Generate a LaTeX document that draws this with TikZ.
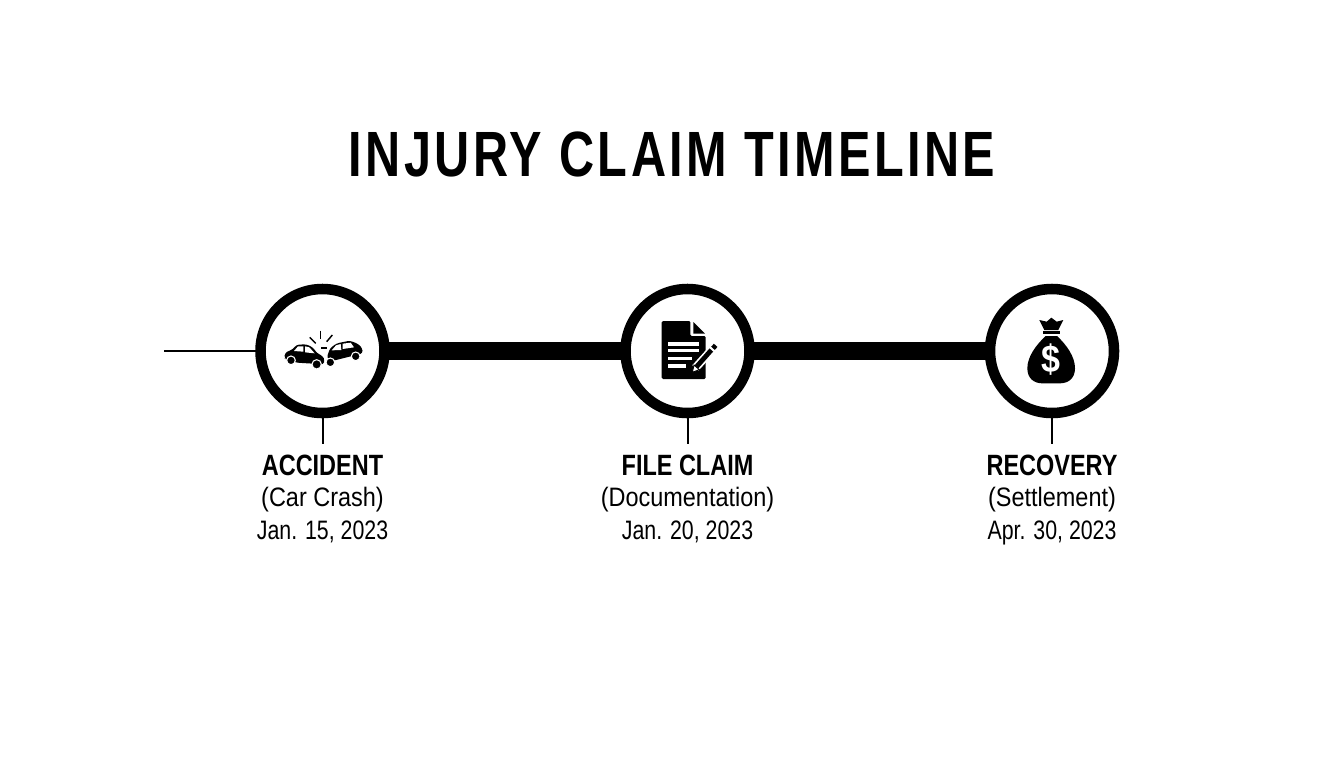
\documentclass[tikz,border=0pt]{standalone}
\usepackage{fontspec}
\setmainfont{Liberation Sans}[FakeStretch=0.88]
\newfontfamily\titlefont{Liberation Sans}[FakeStretch=0.76,LetterSpace=5.4]
\newfontfamily\headfont{Liberation Sans}[FakeStretch=0.8]
\newfontfamily\datefont{Liberation Sans}[FakeStretch=0.8]
\begin{document}
\begin{tikzpicture}[x=0.75pt,y=-0.75pt]
	\tikzstyle{stage}=[circle,draw=black,fill=white,line width=7.9pt,minimum size=93pt,inner sep=0pt]
	\tikzstyle{bar}=[line width=13.5pt,draw=black,shorten <=-1pt,shorten >=-1pt]
	\tikzstyle{thin}=[line width=1.5pt,draw=black]
	\tikzstyle{head}=[anchor=base,inner sep=7.5pt,font=\headfont\bfseries\fontsize{22}{24}\selectfont]
	\tikzstyle{sub}=[anchor=base,inner sep=0pt,font=\fontsize{20}{22}\selectfont]
	\tikzstyle{day}=[anchor=base,inner sep=0pt,font=\datefont\fontsize{20}{22}\selectfont]
	\tikzstyle{ink}=[fill=black,draw=none]
	\tikzstyle{cut}=[fill=white,draw=none]
	\fill[white] (0,0) rectangle (1344,768);
	\useasboundingbox (0,0) rectangle (1344,768);
	\node[anchor=base,inner sep=0pt,font=\titlefont\bfseries\fontsize{48}{52}\selectfont](title) at (672,176) {INJURY CLAIM TIMELINE};
	\coordinate (start) at (164,351);
	\node[stage](accident) at (322.5,351) {};
	\node[stage](file) at (687.5,351) {};
	\node[stage](recovery) at (1052,351) {};
	\draw[thin,shorten >=-1pt](start) -- (accident);
	\draw[bar](accident) -- (file);
	\draw[bar](file) -- (recovery);
	\node[head](h1) at (322.5,475) {ACCIDENT};
	\node[sub](s1) at (322.5,506) {(Car Crash)};
	\node[day](d1) at (322.5,539) {Jan. 15, 2023};
	\node[head](h2) at (687.5,475) {FILE CLAIM};
	\node[sub](s2) at (687.5,506) {(Documentation)};
	\node[day](d2) at (687.5,539) {Jan. 20, 2023};
	\node[head](h3) at (1052,475) {RECOVERY};
	\node[sub](s3) at (1052,506) {(Settlement)};
	\node[day](d3) at (1052,539) {Apr. 30, 2023};
	\draw[thin,shorten <=-1pt](accident) -- (h1);
	\draw[thin,shorten <=-1pt](file) -- (h2);
	\draw[thin,shorten <=-1pt](recovery) -- (h3);
	\begin{scope}[shift={(150,270)},x=0.25pt,y=-0.25pt]
		\path[ink,rounded corners=2pt] (403,266) -- (405,248) -- (428,238) -- (440,224) -- (470,223) -- (488,232) -- (502,250) -- (518,258) -- (524,270) -- (520,284) -- (490,281) -- (440,278) -- (410,268) -- cycle;
		\path[cut] (432,243) -- (444,229) -- (460,229) -- (460,245) -- cycle;
		\path[cut] (465,229) -- (478,232) -- (494,250) -- (465,247) -- cycle;
		\path[ink,rounded corners=2pt] (530,264) -- (540,235) -- (560,220) -- (600,212) -- (625,222) -- (637,235) -- (638,250) -- (620,255) -- (590,262) -- (550,272) -- cycle;
		\path[cut] (545,241) -- (558,226) -- (572,222) -- (574,240) -- cycle;
		\path[cut] (578,221) -- (602,218) -- (612,232) -- (578,237) -- cycle;
		\filldraw[fill=black,draw=white,line width=0.8pt] (423,271) circle (13);
		\filldraw[fill=black,draw=white,line width=0.8pt] (500,283) circle (14);
		\filldraw[fill=black,draw=white,line width=0.8pt] (541,277) circle (13);
		\filldraw[fill=black,draw=white,line width=0.8pt] (617,259) circle (13);
		\draw[line width=1.1pt] (511,182) -- (511,208);
		\draw[line width=1.1pt] (479,202) -- (497,220);
		\draw[line width=1.1pt] (547,195) -- (530,215);
		\path[ink] (512,230) rectangle (530,238);
	\end{scope}
	\begin{scope}[shift={(610,270)},x=0.25pt,y=-0.25pt]
		\path[ink,rounded corners=1pt] (155,153) -- (241,153) -- (241,198) -- (287,198) -- (287,327) -- (155,327) -- cycle;
		\path[ink] (250,156) -- (285,191) -- (250,191) -- cycle;
		\path[cut] (173,217) rectangle (268,227);
		\path[cut] (173,237) rectangle (268,247);
		\path[cut] (173,260) rectangle (245,270);
		\path[cut] (173,283) rectangle (228,293);
		\draw[white,line width=6.2pt] (256,294) -- (312,232);
		\draw[black,line width=3.6pt] (258,292) -- (304,240);
		\draw[black,line width=3.6pt] (309,235) -- (317,226);
		\path[fill=white,draw=black,line width=0.7pt] (247,307) -- (252,285) -- (268,299) -- cycle;
	\end{scope}
	\begin{scope}[shift={(975,270)},x=0.25pt,y=-0.25pt]
		\path[ink] (193,150) -- (215,155) -- (229,143) -- (245,155) -- (265,150) -- (250,180) -- (208,180) -- cycle;
		\path[ink] (204,184) rectangle (254,193);
		\path[ink] (212,198) -- (246,198) .. controls (275,225) and (300,260) .. (300,295) .. controls (300,325) and (280,340) .. (255,340) -- (202,340) .. controls (177,340) and (157,325) .. (157,295) .. controls (157,260) and (183,225) .. (212,198) -- cycle;
		\node[text=white,inner sep=0pt,font=\bfseries\fontsize{29}{30}\selectfont](dollar) at (229,270) {\$};
	\end{scope}
\end{tikzpicture}
\end{document}
